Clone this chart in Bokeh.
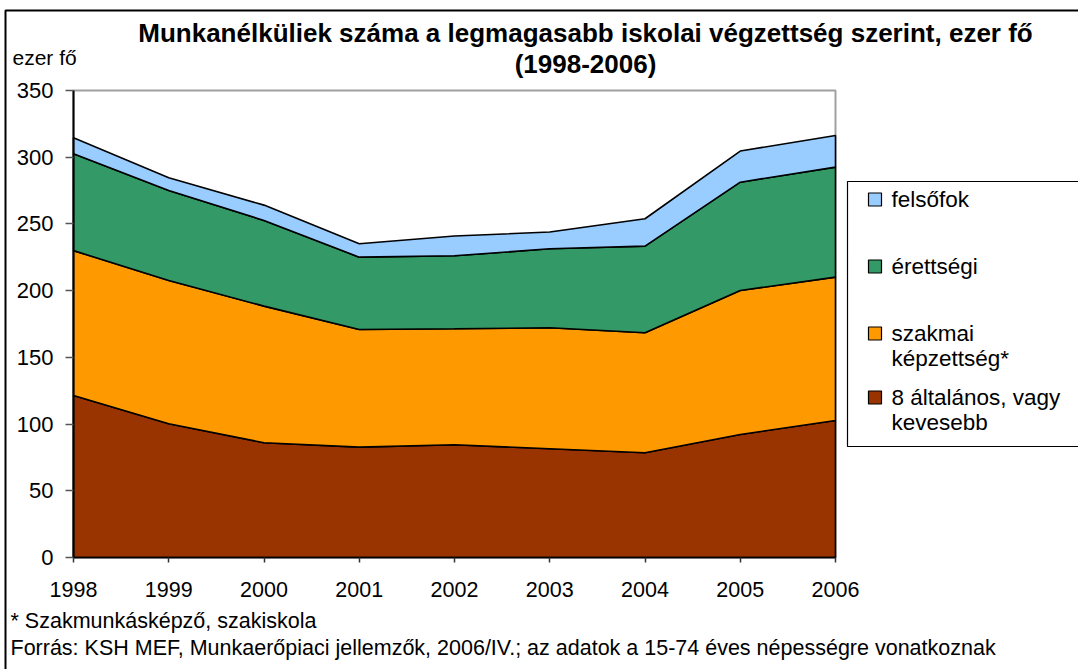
import numpy as np
from bokeh.plotting import figure
from bokeh.models import Range1d, Label, BoxAnnotation, FixedTicker, LinearAxis
from bokeh.embed import file_html
from bokeh.resources import INLINE

# ---- data (ezer fő) ----
years = [1998, 1999, 2000, 2001, 2002, 2003, 2004, 2005, 2006]
altalanos = [121.4, 100.2, 86.0, 82.7, 84.5, 81.5, 78.5, 92.2, 102.7]
szakmai = [108.6, 107.4, 102.4, 88.2, 86.9, 90.7, 89.9, 107.9, 107.4]
erettsegi = [72.6, 67.4, 64.2, 54.2, 54.7, 59.2, 65.0, 81.2, 82.5]
felsofok = [12.0, 9.6, 11.5, 10.0, 14.8, 12.5, 20.5, 23.3, 23.7]

series_names = ["8 általános, vagy\nkevesebb", "szakmai\nképzettség*", "érettségi", "felsőfok"]
series_values = [altalanos, szakmai, erettsegi, felsofok]
series_colors = ["#993300", "#FF9900", "#339966", "#99CCFF"]
y_ticks = [0, 50, 100, 150, 200, 250, 300, 350]

title1 = "Munkanélküliek száma a legmagasabb iskolai végzettség szerint, ezer fő"
title2 = "(1998-2006)"
unit_label = "ezer fő"
note1 = "* Szakmunkásképző, szakiskola"
note2 = "Forrás: KSH MEF, Munkaerőpiaci jellemzők, 2006/IV.; az adatok a 15-74 éves népességre vonatkoznak"

FONT = "Liberation Sans"

# canvas = frame; plot area of the reference spans page x 73..835, y 90..557
W, H = 1078, 669
PX0, PX1, PY0, PY1 = 73.0, 835.0, 557.0, 90.0   # years[0]/years[-1] and 0/350 pixel positions

def dx(px):
    return years[0] + (px - PX0) * (years[-1] - years[0]) / (PX1 - PX0)

def dy(py):
    return (PY0 - py) * y_ticks[-1] / (PY0 - PY1)

p = figure(width=W, height=H, output_backend="svg", toolbar_location=None,
           x_range=Range1d(dx(0), dx(W)), y_range=Range1d(dy(H), dy(0)),
           min_border=0, title=None,
           x_axis_location=None, y_axis_location=None)

p.xgrid.visible = False
p.ygrid.visible = False
p.outline_line_color = None
p.background_fill_color = "white"
p.border_fill_color = "white"

# plot-area border (gray)
p.add_layout(BoxAnnotation(left=years[0], right=years[-1], bottom=0, top=y_ticks[-1],
                           fill_alpha=0, line_color="#A0A0A0", line_alpha=1, line_width=2,
                           level="underlay"))

# stacked areas as patches
x = np.array(years, dtype=float)
base = np.zeros(len(years))
for vals, col in zip(series_values, series_colors):
    top = base + np.array(vals)
    xs = np.concatenate([x, x[::-1]])
    ys = np.concatenate([top, base[::-1]])
    p.patch(xs, ys, fill_color=col, line_color="black", line_width=1.6)
    base = top

# axes fixed at the plot area edges
yax = LinearAxis(fixed_location=years[0], bounds=(0, y_ticks[-1]), ticker=FixedTicker(ticks=y_ticks))
xax = LinearAxis(fixed_location=0, bounds=(years[0], years[-1]), ticker=FixedTicker(ticks=years))
for ax in (yax, xax):
    ax.minor_tick_line_color = None
    ax.axis_line_color = "black"
    ax.major_tick_in = 0
    ax.major_label_text_font = FONT
    ax.major_label_text_color = "black"
    ax.major_tick_line_width = 1.5
yax.axis_line_width = 2
xax.axis_line_width = 1.5
yax.major_tick_line_color = "#555555"
xax.major_tick_line_color = "#333333"
yax.major_tick_out = 8
xax.major_tick_out = 5
yax.major_label_standoff = 12
xax.major_label_standoff = 19
yax.major_label_text_font_size = "22px"
xax.major_label_text_font_size = "21.5px"
p.add_layout(yax, "left")
p.add_layout(xax, "below")

def lab(text, px, py, size, align="left", bold=False):
    p.add_layout(Label(x=dx(px), y=dy(py), text=text, text_font=FONT,
                       text_font_size=size, text_align=align, text_baseline="middle",
                       text_font_style="bold" if bold else "normal",
                       text_color="black"))

lab(title1, 585, 32, "26px", align="center", bold=True)
lab(title2, 585, 63, "26px", align="center", bold=True)
lab(unit_label, 12, 57, "21px")
lab(note1, 10, 620, "21.5px")
lab(note2, 10, 647, "21.5px")

# outer chart border (only left/top visible in the window)
p.add_layout(BoxAnnotation(left=dx(5), right=dx(W + 50), top=dy(10), bottom=dy(H + 50),
                           fill_alpha=0, line_color="black", line_alpha=1, line_width=2))

# legend box and entries
p.add_layout(BoxAnnotation(left=dx(847), right=dx(W + 50), top=dy(181), bottom=dy(446),
                           fill_alpha=0, line_color="black", line_alpha=1, line_width=1.2))
entry_centers = [397, 333, 266, 199]   # order matches series (bottom to top)
for name, col, cy in zip(series_names, series_colors, entry_centers):
    p.add_layout(BoxAnnotation(left=dx(868), right=dx(881), top=dy(cy - 6.5), bottom=dy(cy + 6.5),
                               fill_color=col, fill_alpha=1, line_color="black", line_alpha=1,
                               line_width=1.2))
    for i, ln in enumerate(name.split("\n")):
        lab(ln, 891, cy + i * 25, "22.5px")

open("out.html", "w").write(file_html(p, INLINE))
